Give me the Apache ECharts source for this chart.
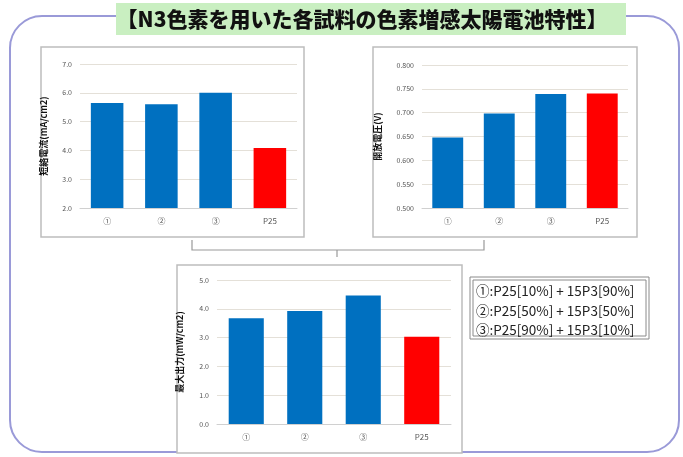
<!DOCTYPE html>
<html>
<head>
<meta charset="utf-8">
<script src="https://cdn.jsdelivr.net/npm/echarts@6/dist/echarts.min.js"></script>
<style>
  html, body { margin: 0; padding: 0; background: #fff; }
  #main { width: 683px; height: 457px; }
</style>
</head>
<body>
<div id="main"></div>
<script>
var categories = ['①', '②', '③', 'P25'];
var shortCircuitCurrent = [5.65, 5.60, 6.00, 4.08];   // mA/cm2
var openCircuitVoltage = [0.648, 0.698, 0.739, 0.740]; // V
var maxPower = [3.67, 3.92, 4.46, 3.03];               // mW/cm2
var legendLines = [
    '①:P25[10%] + 15P3[90%]',
    '②:P25[50%] + 15P3[50%]',
    '③:P25[90%] + 15P3[10%]'
];
var titleText = '【N3色素を用いた各試料の色素増感太陽電池特性】';

var BLUE = '#0070c0';
var RED = '#ff0000';
var FONT = '"Noto Sans CJK JP", "Noto Sans", sans-serif';

// Last category (P25 reference) is drawn in red
function coloured(values) {
    return values.map(function (v, i) {
        return { value: v, itemStyle: { color: i === values.length - 1 ? RED : BLUE } };
    });
}

function xAxisFor(gridIndex) {
    return {
        type: 'category',
        gridIndex: gridIndex,
        data: categories,
        axisTick: { show: false },
        axisLine: { lineStyle: { color: '#d0d0d0' } },
        axisLabel: { color: '#555', fontSize: 8, margin: 9, fontFamily: FONT }
    };
}

function yAxisFor(gridIndex, name, min, max, interval, digits, gap) {
    return {
        type: 'value',
        gridIndex: gridIndex,
        min: min,
        max: max,
        interval: interval,
        name: name,
        nameLocation: 'middle',
        nameRotate: 90,
        nameGap: gap,
        nameTextStyle: { color: '#111', fontSize: 9, fontWeight: 'bold', fontFamily: FONT },
        axisLine: { show: false },
        axisTick: { show: false },
        splitLine: { lineStyle: { color: '#e4e0d8' } },
        axisLabel: {
            color: '#555', fontSize: 7, margin: 8, fontFamily: FONT,
            formatter: function (v) { return v.toFixed(digits); }
        }
    };
}

var chart = echarts.init(document.getElementById('main'));

var option = {
    backgroundColor: '#fff',
    animation: false,
    grid: [
        { left: 80, top: 64, width: 217, height: 144 },
        { left: 422, top: 65, width: 206, height: 143 },
        { left: 217, top: 280, width: 234, height: 144 }
    ],
    xAxis: [xAxisFor(0), xAxisFor(1), xAxisFor(2)],
    yAxis: [
        yAxisFor(0, '短絡電流(mA/cm2)', 2, 7, 1, 1, 32),
        yAxisFor(1, '開放電圧(V)', 0.5, 0.8, 0.05, 3, 40),
        yAxisFor(2, '最大出力(mW/cm2)', 0, 5, 1, 1, 33)
    ],
    series: [
        { type: 'bar', xAxisIndex: 0, yAxisIndex: 0, barWidth: '60%', data: coloured(shortCircuitCurrent) },
        { type: 'bar', xAxisIndex: 1, yAxisIndex: 1, barWidth: '60%', data: coloured(openCircuitVoltage) },
        { type: 'bar', xAxisIndex: 2, yAxisIndex: 2, barWidth: '60%', data: coloured(maxPower) }
    ],
    graphic: [
        // purple rounded outline round the whole slide
        { type: 'rect', z: -10, shape: { x: 10, y: 16, width: 669, height: 436, r: 32 },
          style: { fill: null, stroke: '#9a9ad8', lineWidth: 2 } },
        // green title band
        { type: 'rect', z: -5, shape: { x: 116, y: 3, width: 510, height: 32 },
          style: { fill: '#c9efc1' } },
        { type: 'text', z: 10, x: 362, y: 19,
          style: { text: titleText, font: '900 21px ' + FONT, fill: '#111',
                   align: 'center', verticalAlign: 'middle' } },
        // chart frames
        { type: 'rect', z: -4, shape: { x: 41, y: 47, width: 263, height: 190 },
          style: { fill: '#fff', stroke: '#bdbdbd', lineWidth: 1.5 } },
        { type: 'rect', z: -4, shape: { x: 373, y: 47, width: 264, height: 190 },
          style: { fill: '#fff', stroke: '#bdbdbd', lineWidth: 1.5 } },
        { type: 'rect', z: -4, shape: { x: 177, y: 265, width: 285, height: 188 },
          style: { fill: '#fff', stroke: '#bdbdbd', lineWidth: 1.5 } },
        // bracket joining the two upper charts to the lower one
        { type: 'polyline', shape: { points: [[192, 240], [192, 250], [484, 250], [484, 240]] },
          style: { fill: null, stroke: '#999', lineWidth: 1.2 } },
        { type: 'line', shape: { x1: 337, y1: 250, x2: 337, y2: 257 },
          style: { stroke: '#999', lineWidth: 1.2 } },
        // sample legend box (double border)
        { type: 'rect', shape: { x: 470, y: 277, width: 179, height: 62 },
          style: { fill: '#fff', stroke: '#8a8a8a', lineWidth: 1 } },
        { type: 'rect', shape: { x: 473, y: 280, width: 173, height: 56 },
          style: { fill: null, stroke: '#8a8a8a', lineWidth: 1 } },
        { type: 'text', x: 476, y: 291,
          style: { text: legendLines[0], font: '13.5px ' + FONT, fill: '#222', verticalAlign: 'middle' } },
        { type: 'text', x: 476, y: 311,
          style: { text: legendLines[1], font: '13.5px ' + FONT, fill: '#222', verticalAlign: 'middle' } },
        { type: 'text', x: 476, y: 330,
          style: { text: legendLines[2], font: '13.5px ' + FONT, fill: '#222', verticalAlign: 'middle' } }
    ]
};

chart.setOption(option);
</script>
</body>
</html>
